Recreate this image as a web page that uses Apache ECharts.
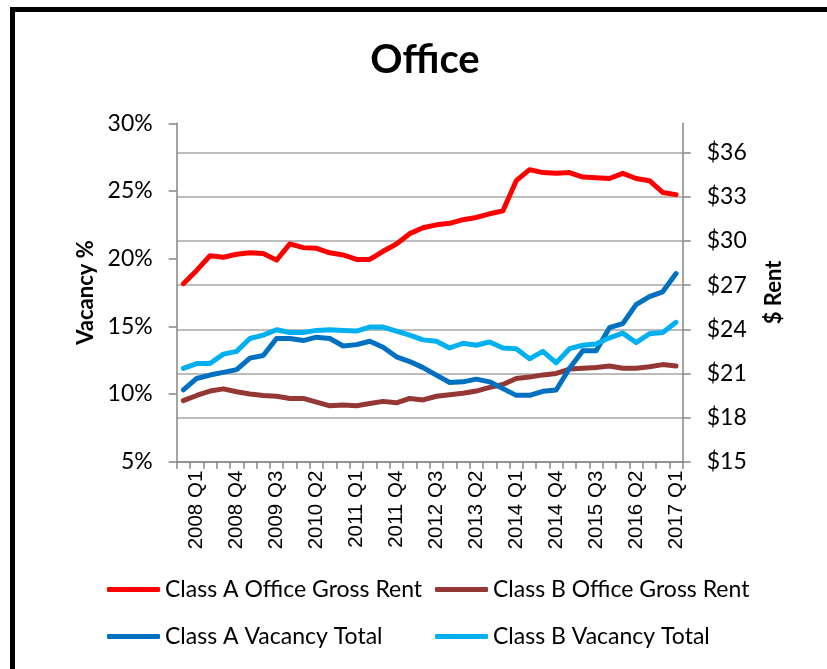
<!DOCTYPE html>
<html>
<head>
<meta charset="utf-8">
<title>Office</title>
<script src="https://cdn.jsdelivr.net/npm/echarts@6/dist/echarts.min.js"></script>
<style>
  html, body { margin: 0; padding: 0; background: #fff; }
  #frame {
    position: absolute; left: 10px; top: 7px; width: 900px; height: 800px;
    border-left: 5px solid #000; border-top: 5px solid #000;
  }
  #chart { position: absolute; left: 0; top: 0; width: 827px; height: 669px; }
</style>
</head>
<body>
<div id="frame"></div>
<div id="chart"></div>
<script>
// quarters, 2007 Q4 .. 2017 Q1 (labels shown every 3rd, starting at 2008 Q1)
const quarters = [
  '2007 Q4',
  '2008 Q1', '2008 Q2', '2008 Q3', '2008 Q4',
  '2009 Q1', '2009 Q2', '2009 Q3', '2009 Q4',
  '2010 Q1', '2010 Q2', '2010 Q3', '2010 Q4',
  '2011 Q1', '2011 Q2', '2011 Q3', '2011 Q4',
  '2012 Q1', '2012 Q2', '2012 Q3', '2012 Q4',
  '2013 Q1', '2013 Q2', '2013 Q3', '2013 Q4',
  '2014 Q1', '2014 Q2', '2014 Q3', '2014 Q4',
  '2015 Q1', '2015 Q2', '2015 Q3', '2015 Q4',
  '2016 Q1', '2016 Q2', '2016 Q3', '2016 Q4',
  '2017 Q1'
];

// $ rent (right axis)
const classARent = [27.1, 28.0, 29.0, 28.9, 29.1, 29.2, 29.15, 28.7, 29.8, 29.55,
  29.5, 29.2, 29.05, 28.75, 28.75, 29.3, 29.8, 30.5, 30.9, 31.1,
  31.2, 31.45, 31.6, 31.85, 32.05, 34.1, 34.85, 34.65, 34.6, 34.65,
  34.35, 34.3, 34.25, 34.6, 34.25, 34.1, 33.3, 33.15];
const classBRent = [19.15, 19.5, 19.8, 19.95, 19.75, 19.6, 19.5, 19.45, 19.3, 19.3,
  19.05, 18.8, 18.85, 18.8, 18.95, 19.1, 19.0, 19.3, 19.2, 19.45,
  19.55, 19.65, 19.8, 20.05, 20.25, 20.65, 20.75, 20.9, 21.0, 21.3,
  21.35, 21.4, 21.5, 21.35, 21.35, 21.45, 21.6, 21.5];

// vacancy % (left axis)
const classAVac = [10.3, 11.15, 11.4, 11.6, 11.8, 12.65, 12.85, 14.1, 14.1, 13.95,
  14.2, 14.1, 13.55, 13.65, 13.9, 13.45, 12.75, 12.4, 11.95, 11.4,
  10.85, 10.9, 11.1, 10.9, 10.4, 9.9, 9.9, 10.2, 10.3, 11.9,
  13.2, 13.2, 14.9, 15.2, 16.6, 17.2, 17.55, 18.9];
const classBVac = [11.9, 12.25, 12.25, 12.95, 13.15, 14.1, 14.35, 14.75, 14.55, 14.55,
  14.7, 14.75, 14.7, 14.65, 14.95, 14.95, 14.65, 14.35, 14.0, 13.9,
  13.4, 13.75, 13.6, 13.85, 13.4, 13.35, 12.6, 13.15, 12.3, 13.35,
  13.6, 13.7, 14.15, 14.5, 13.8, 14.45, 14.55, 15.3];

const names = ['Class A Office Gross Rent', 'Class B Office Gross Rent',
  'Class A Vacancy Total', 'Class B Vacancy Total'];
const colors = ['#FF0000', '#953735', '#0070C0', '#00B0F0'];

const axisGray = '#868686';
const gridGray = '#a6a6a6';
const font = 'Lato, "Open Sans", sans-serif';

const chart = echarts.init(document.getElementById('chart'));

// right axis runs 15..38, no gridline at the top
const rightMin = 15, rightMax = 38, rightStep = 3;
const splitColors = [];
for (let v = rightMin; v <= rightMax; v += rightStep) splitColors.push(gridGray);
splitColors.push('rgba(0,0,0,0)');

function legendCol(left, items) {
  return {
    orient: 'vertical',
    left: left,
    top: 573,
    itemWidth: 53,
    itemHeight: 5,
    itemGap: 24,
    icon: 'roundRect',
    data: items,
    textStyle: { fontFamily: font, fontSize: 23, color: '#000' }
  };
}

const option = {
  animation: false,
  backgroundColor: 'transparent',
  graphic: [{
    type: 'text',
    x: 425,
    y: 60,
    style: {
      text: 'Office',
      font: 'bold 40px ' + font,
      fill: '#000',
      textAlign: 'center',
      textVerticalAlign: 'middle'
    }
  }],
  legend: [
    legendCol(102, [names[0], names[2]]),
    legendCol(430, [names[1], names[3]])
  ],
  grid: { left: 176.7, right: 144.3, top: 123.3, bottom: 207.3, containLabel: false },
  xAxis: {
    type: 'category',
    data: quarters,
    boundaryGap: true,
    axisLine: { lineStyle: { color: axisGray, width: 1.5 } },
    axisTick: { show: true, interval: 0, length: 7, lineStyle: { color: axisGray, width: 1.5 } },
    axisLabel: {
      interval: (i) => i % 3 === 1,
      rotate: 90,
      margin: 9,
      fontFamily: '"Liberation Sans", Arial, sans-serif',
      fontSize: 20.5,
      color: '#000'
    },
    splitLine: { show: false }
  },
  yAxis: [
    {
      type: 'value',
      min: 5,
      max: 30,
      interval: 5,
      name: 'Vacancy %',
      nameLocation: 'middle',
      nameRotate: 90,
      nameGap: 78,
      nameTextStyle: { fontFamily: font, fontWeight: 'bold', fontSize: 22, color: '#000' },
      axisLine: { show: true, lineStyle: { color: axisGray, width: 1.5 } },
      axisTick: { show: true, length: 8, lineStyle: { color: axisGray, width: 1.5 } },
      axisLabel: { formatter: '{value}%', margin: 24, fontFamily: font, fontSize: 23, color: '#000' },
      splitLine: { show: false }
    },
    {
      type: 'value',
      min: rightMin,
      max: rightMax,
      interval: rightStep,
      position: 'right',
      name: '$ Rent',
      nameLocation: 'middle',
      nameRotate: 90,
      nameGap: 80,
      nameTextStyle: { fontFamily: font, fontWeight: 'bold', fontSize: 22, color: '#000' },
      axisLine: { show: true, lineStyle: { color: axisGray, width: 1.5 } },
      axisTick: { show: true, length: 8, lineStyle: { color: axisGray, width: 1.5 } },
      axisLabel: { formatter: '${value}', margin: 24, showMaxLabel: false, fontFamily: font, fontSize: 23, color: '#000' },
      splitLine: { show: true, lineStyle: { color: splitColors, width: 1.5 } }
    }
  ],
  series: [
    { name: names[0], data: classARent, yAxisIndex: 1 },
    { name: names[1], data: classBRent, yAxisIndex: 1 },
    { name: names[2], data: classAVac, yAxisIndex: 0 },
    { name: names[3], data: classBVac, yAxisIndex: 0 }
  ].map((s, i) => Object.assign({
    type: 'line',
    symbol: 'none',
    color: colors[i],
    lineStyle: { width: 5, color: colors[i], cap: 'round', join: 'round' }
  }, s))
};

chart.setOption(option);
</script>
</body>
</html>
